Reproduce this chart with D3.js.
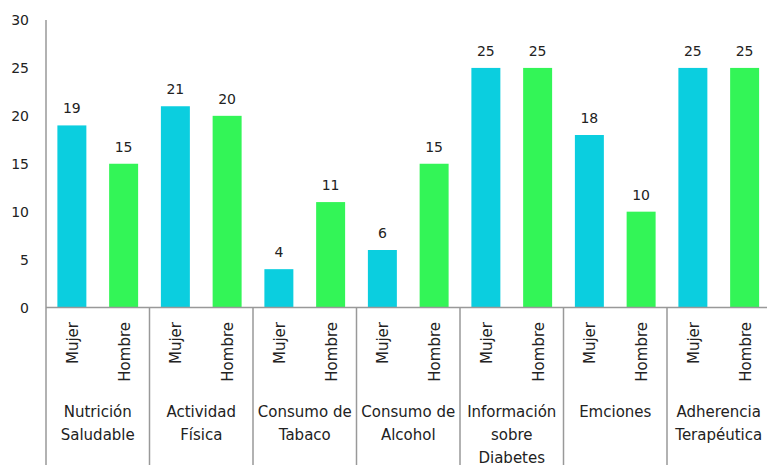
<!DOCTYPE html>
<html>
<head>
<meta charset="utf-8">
<script src="https://cdn.jsdelivr.net/npm/d3@7"></script>
<style>
  body { margin: 0; background: #fff; }
  text { font-family: "DejaVu Sans", Verdana, sans-serif; fill: #222; }
</style>
</head>
<body>
<svg id="chart" width="767" height="465"></svg>
<script>
// data
const categories = [
    ["Nutrición", "Saludable"],
    ["Actividad", "Física"],
    ["Consumo de", "Tabaco"],
    ["Consumo de", "Alcohol"],
    ["Información", "sobre", "Diabetes"],
    ["Emciones"],
    ["Adherencia", "Terapéutica"]
];
const sexes = ["Mujer", "Hombre"];
const mujer = [19, 21, 4, 6, 25, 18, 25];
const hombre = [15, 20, 11, 15, 25, 10, 25];
const yTicks = [0, 5, 10, 15, 20, 25, 30];

drawChart();

function drawChart() {
    let svg = d3.select("#chart");
    let left = 46, right = 770.5, top = 20, zeroY = 307.5, bottom = 465;
    let colors = { Mujer: "#0bcedf", Hombre: "#33f557" };

    let x0 = d3.scaleBand()
        .domain(d3.range(categories.length))
        .range([left, right])
        .padding(0);

    let x1 = d3.scaleBand()
        .domain(sexes)
        .range([0, x0.bandwidth()])
        .paddingInner(0.44)
        .paddingOuter(0.22);

    let y = d3.scaleLinear()
        .domain([0, 30])
        .range([zeroY, top]);

    // y tick labels
    svg.append("g")
        .selectAll("text")
        .data(yTicks)
        .enter()
        .append("text")
        .attr("x", 29)
        .attr("y", d => y(d))
        .attr("dy", "0.36em")
        .attr("text-anchor", "end")
        .style("font-size", "14px")
        .text(d => d);

    let rows = categories.map((c, i) => [
        { group: i, sex: "Mujer", value: mujer[i] },
        { group: i, sex: "Hombre", value: hombre[i] }
    ]).flat();

    // bars
    svg.append("g")
        .selectAll("rect")
        .data(rows)
        .enter()
        .append("rect")
        .attr("x", d => x0(d.group) + x1(d.sex))
        .attr("y", d => y(d.value))
        .attr("width", x1.bandwidth())
        .attr("height", d => zeroY - y(d.value))
        .attr("fill", d => colors[d.sex]);

    // value labels
    svg.append("g")
        .selectAll("text")
        .data(rows)
        .enter()
        .append("text")
        .attr("x", d => x0(d.group) + x1(d.sex) + x1.bandwidth() / 2)
        .attr("y", d => y(d.value) - 12)
        .attr("text-anchor", "middle")
        .style("font-size", "14px")
        .text(d => d.value);

    // axis lines
    let lines = svg.append("g")
        .attr("stroke", "#999")
        .attr("stroke-width", 1.5);
    lines.append("line")
        .attr("x1", left).attr("x2", left)
        .attr("y1", top).attr("y2", bottom);
    lines.append("line")
        .attr("x1", left).attr("x2", right)
        .attr("y1", zeroY).attr("y2", zeroY);
    lines.selectAll("line.sep")
        .data(d3.range(1, categories.length))
        .enter()
        .append("line")
        .attr("class", "sep")
        .attr("x1", d => x0(d)).attr("x2", d => x0(d))
        .attr("y1", zeroY).attr("y2", bottom);

    // rotated sex labels
    svg.append("g")
        .selectAll("text")
        .data(rows)
        .enter()
        .append("text")
        .attr("transform", d => {
            let cx = x0(d.group) + x1(d.sex) + x1.bandwidth() / 2;
            return "translate(" + (cx + 6) + "," + 322 + ") rotate(-90)";
        })
        .attr("text-anchor", "end")
        .style("font-size", "15px")
        .text(d => d.sex);

    // category labels
    let cat = svg.append("g")
        .selectAll("text")
        .data(categories)
        .enter()
        .append("text")
        .attr("x", (d, i) => x0(i) + x0.bandwidth() / 2)
        .attr("y", 417)
        .attr("text-anchor", "middle")
        .style("font-size", "15px");
    cat.selectAll("tspan")
        .data(d => d)
        .enter()
        .append("tspan")
        .attr("x", function() { return d3.select(this.parentNode).attr("x"); })
        .attr("dy", (d, i) => i === 0 ? 0 : 23)
        .text(d => d);
}
</script>
</body>
</html>
